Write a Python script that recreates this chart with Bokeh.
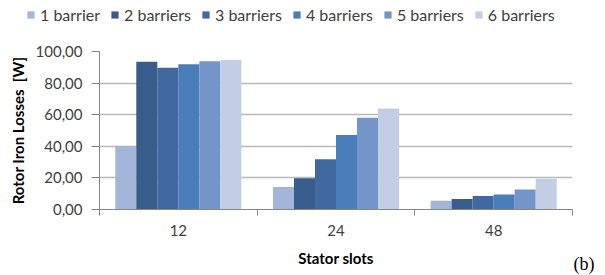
from bokeh.plotting import figure
from bokeh.models import Range1d, FixedTicker, Legend, LegendItem, Label
from bokeh.layouts import column, row
from bokeh.embed import file_html
from bokeh.resources import INLINE

slots = ["12", "24", "48"]
series_names = ["1 barrier", "2 barriers", "3 barriers", "4 barriers", "5 barriers", "6 barriers"]
b1 = [40.2, 14.3, 5.5]
b2 = [93.5, 19.8, 6.6]
b3 = [89.7, 31.8, 8.5]
b4 = [91.9, 47.2, 9.5]
b5 = [93.9, 58.1, 12.6]
b6 = [94.6, 64.0, 19.4]
y_ticks = [0, 20, 40, 60, 80, 100]
y_tick_labels = ["0,00", "20,00", "40,00", "60,00", "80,00", "100,00"]
colors = ["#A3B5D8", "#385D8A", "#41699F", "#4A7EBB", "#7495C9", "#C3CEE4"]

series = [b1, b2, b3, b4, b5, b6]
group_w = 0.8
bw = group_w / len(series)


def bar_x(j):
    return [i + 0.1 + bw * (j + 0.5) for i in range(len(slots))]


# ---------- legend strip (top) ----------
# the strip's own view is scrolled away from the bars; they only serve as legend swatches
leg = figure(width=605, height=30, output_backend="svg", toolbar_location=None,
             x_range=Range1d(-2, -1), y_range=Range1d(0, 1),
             x_axis_type=None, y_axis_type=None, min_border=0)
leg.outline_line_color = None
leg_renderers = [leg.vbar(x=bar_x(j), top=vals, width=bw, bottom=0,
                          fill_color=colors[j], line_color=None)
                 for j, vals in enumerate(series)]
legend = Legend(items=[LegendItem(label=n, renderers=[r]) for n, r in zip(series_names, leg_renderers)],
                orientation="horizontal", location=(26, 6),
                padding=0, margin=0, spacing=10, label_standoff=5,
                glyph_width=9, glyph_height=9, label_height=18,
                label_text_font="Lato", label_text_font_size="16px",
                label_text_color="#404040",
                border_line_color=None, background_fill_alpha=0)
leg.add_layout(legend, "center")

# ---------- main chart ----------
p = figure(width=573, height=245, output_backend="svg", toolbar_location=None,
           x_range=Range1d(0, len(slots)), y_range=Range1d(0, 100),
           min_border_left=99, min_border_right=1, min_border_top=21, min_border_bottom=66)
p.outline_line_color = None
p.background_fill_color = "white"
p.xgrid.grid_line_color = None
p.ygrid.grid_line_color = "#B9B9B9"
p.ygrid.grid_line_width = 1.3
p.ygrid.ticker = FixedTicker(ticks=y_ticks)

for j, vals in enumerate(series):
    p.vbar(x=bar_x(j), top=vals, width=bw, bottom=0, fill_color=colors[j], line_color=None)

ya = p.yaxis[0]
ya.ticker = FixedTicker(ticks=y_ticks, minor_ticks=[])
ya.major_label_overrides = {t: l for t, l in zip(y_ticks, y_tick_labels)}
ya.major_tick_out = 8
ya.major_tick_in = 0
ya.minor_tick_out = 0
ya.minor_tick_in = 0
ya.axis_line_color = "#868686"
ya.major_tick_line_color = "#868686"
ya.major_label_text_font = "Lato"
ya.major_label_text_font_size = "15px"
ya.major_label_text_color = "#404040"
ya.major_label_standoff = 9
ya.axis_label = "Rotor Iron Losses\u00a0 [W]"
ya.axis_label_text_font = "Lato"
ya.axis_label_text_font_style = "bold"
ya.axis_label_text_font_size = "15px"
ya.axis_label_text_color = "#000000"
ya.axis_label_standoff = 6

xa = p.xaxis[0]
centers = [i + 0.5 for i in range(len(slots))]
xa.ticker = FixedTicker(ticks=centers, minor_ticks=[float(i) for i in range(len(slots) + 1)])
xa.major_label_overrides = {c: s for c, s in zip(centers, slots)}
xa.major_tick_out = 0
xa.major_tick_in = 0
xa.minor_tick_out = 6
xa.minor_tick_in = 0
xa.axis_line_color = "#868686"
xa.minor_tick_line_color = "#868686"
xa.major_label_text_font = "Lato"
xa.major_label_text_font_size = "15px"
xa.major_label_text_color = "#404040"
xa.major_label_standoff = 9
xa.axis_label = "Stator slots"
xa.axis_label_text_font = "Lato"
xa.axis_label_text_font_style = "bold"
xa.axis_label_text_font_size = "15px"
xa.axis_label_text_color = "#000000"
xa.axis_label_standoff = 10

# ---------- panel tag strip (right) ----------
tag = figure(width=32, height=245, output_backend="svg", toolbar_location=None,
             x_range=Range1d(0, 32), y_range=Range1d(0, 245),
             x_axis_type=None, y_axis_type=None, min_border=0)
tag.outline_line_color = None
tag.add_layout(Label(x=0, y=12, text="(b)", text_font="Liberation Serif",
                     text_font_size="18px", text_color="#000000",
                     text_baseline="middle", text_align="left"))

layout = column(leg, row(p, column(tag, spacing=0), spacing=0), spacing=0)
open("out.html", "w").write(file_html(layout, INLINE))
